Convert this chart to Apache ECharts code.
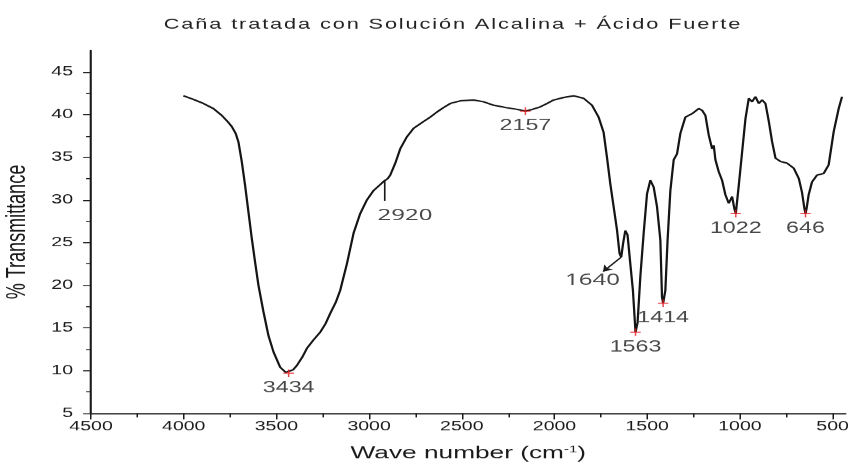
<!DOCTYPE html>
<html>
<head>
<meta charset="utf-8">
<title>Caña tratada con Solución Alcalina + Ácido Fuerte</title>
<script src="https://cdn.jsdelivr.net/npm/echarts@6.0.0/dist/echarts.min.js"></script>
<style>
  html, body { margin: 0; padding: 0; background: #fff; overflow: hidden; }
  /* the plot is laid out on a narrower canvas and widened to the page width */
  #chart { width: 567px; height: 471px; transform: scaleX(1.4991); transform-origin: 0 0; }
</style>
</head>
<body>
<div id="chart"></div>
<script>
// FTIR spectrum: wave number (cm-1) and % transmittance
const wavenumbers = [
  4002, 3950, 3894, 3840, 3795, 3760, 3741, 3720, 3705, 3687, 3669, 3651, 3633, 3615, 3597,
  3570, 3543, 3516, 3480, 3450, 3434, 3410, 3390, 3360, 3336, 3300, 3264, 3235, 3210, 3180,
  3156, 3120, 3084, 3048, 3012, 2976, 2940, 2920, 2900, 2886, 2859, 2832, 2796, 2760, 2706,
  2670, 2634, 2600, 2562, 2509, 2437, 2383, 2329, 2257, 2200, 2157, 2120, 2077, 2040, 2005,
  1951, 1897, 1843, 1798, 1762, 1735, 1717, 1699, 1681, 1663, 1649, 1640, 1630, 1618, 1606,
  1591, 1577, 1563, 1552, 1537, 1519, 1501, 1483, 1465, 1447, 1429, 1420, 1414, 1402, 1390,
  1375, 1357, 1339, 1321, 1294, 1258, 1222, 1204, 1186, 1168, 1150, 1141, 1132, 1114, 1096,
  1078, 1060, 1042, 1030, 1022, 1006, 988, 970, 952, 934, 916, 898, 880, 862, 844,
  826, 808, 781, 745, 709, 682, 665, 652, 646, 640, 629, 611, 584, 548, 521,
  494, 467, 449
];
const transmittance = [
  42.2, 41.8, 41.3, 40.7, 39.9, 39.1, 38.6, 37.8, 36.8, 34.5, 31.7, 28.6, 25.5, 22.7, 20.0,
  16.9, 14.1, 12.2, 10.4, 9.8, 9.7, 10.1, 10.6, 11.6, 12.6, 13.6, 14.5, 15.5, 16.7, 18.0,
  19.4, 22.5, 26.1, 28.4, 30.0, 31.1, 31.8, 32.2, 32.5, 32.9, 34.3, 36.0, 37.4, 38.4, 39.2,
  39.7, 40.3, 40.8, 41.3, 41.6, 41.7, 41.5, 41.1, 40.8, 40.6, 40.4, 40.6, 40.9, 41.3, 41.7,
  42.0, 42.2, 41.9, 41.1, 39.7, 37.9, 35.0, 31.9, 29.2, 26.5, 23.7, 23.3, 24.9, 26.4, 25.9,
  22.5, 19.4, 14.5, 15.6, 21.0, 26.1, 30.7, 32.3, 31.5, 29.2, 25.3, 18.6, 17.9, 19.4, 25.3,
  31.1, 34.7, 35.4, 37.8, 39.7, 40.1, 40.7, 40.5, 39.9, 37.6, 36.0, 36.4, 34.7, 33.3, 32.3,
  30.6, 29.6, 30.4, 29.0, 28.4, 31.7, 35.6, 39.5, 41.9, 41.5, 42.1, 41.3, 41.7, 41.3, 39.2,
  36.8, 34.9, 34.5, 34.3, 33.7, 32.5, 30.9, 29.0, 28.4, 29.0, 30.6, 32.1, 32.9, 33.1, 34.1,
  38.0, 40.7, 42.1
];

// picked peaks (marked with a red cross)
const peakWavenumbers = [3434, 2157, 1563, 1414, 1022, 646];
const peakTransmittance = [9.7, 40.4, 14.5, 17.9, 28.4, 28.4];

// bands annotated with a pointer line
const noteBands = [2920, 1640];
const noteTransmittance = [32.2, 23.3];

const xTickLabels = [4500, 4000, 3500, 3000, 2500, 2000, 1500, 1000, 500];
const xMinorTicks = [4250, 3750, 3250, 2750, 2250, 1750, 1250, 750];
const yTickLabels = [5, 10, 15, 20, 25, 30, 35, 40, 45];
const yMinorTicks = [7.5, 12.5, 17.5, 22.5, 27.5, 32.5, 37.5, 42.5];

const chartTitle = 'Caña tratada con Solución Alcalina + Ácido Fuerte';

const chart = echarts.init(document.getElementById('chart'), null, {
  renderer: 'canvas',
  devicePixelRatio: 1.5
});

const sans = 'Liberation Sans, Arial, sans-serif';
const ink = '#1a1a1a';

const spectrum = wavenumbers.map((w, i) => [w, transmittance[i]]);
const peaks = peakWavenumbers.map((w, i) => [w, peakTransmittance[i]]);
const plus = 'path://M0,4.3h10v1.4h-10z M4.3,0h1.4v10h-1.4z';

// spaced-out lettering: every character becomes one rich-text fragment
const spaced = s => Array.from(s).map(ch => '{c|' + ch + '}').join('');

// pointer lines: a short drop below 2920 and an arrow leaving 1640
const tickEnd = [noteBands[0], noteTransmittance[0] - 2.3];
const arrowEnd = [noteBands[1] + 98, noteTransmittance[1] - 1.7];

const baseX = {
  type: 'value', inverse: true, min: 430, max: 4500,
  splitLine: { show: false }
};
const baseY = {
  type: 'value', min: 5, max: 47.5,
  splitLine: { show: false }
};
const plain = v => String(v);

chart.setOption({
  animation: false,
  backgroundColor: '#fff',
  title: {
    text: spaced(chartTitle),
    left: 297, top: 12, textAlign: 'center',
    textStyle: {
      fontWeight: 'normal',
      rich: { c: { fontFamily: sans, fontSize: 14.5, fontWeight: 'normal', color: '#222', padding: [0, 1.25, 0, 0] } }
    }
  },
  grid: { left: 60.7, right: 3.3, top: 50.5, bottom: 58, outerBoundsMode: 'none', containLabel: false },
  xAxis: [
    Object.assign({}, baseX, {
      position: 'bottom',
      name: '{a|Wave number (cm}{s|-1}{a|)}',
      nameLocation: 'middle', nameGap: 31,
      nameTextStyle: {
        rich: {
          a: { fontFamily: sans, fontSize: 17.5, color: ink },
          s: { fontFamily: sans, fontSize: 10, color: ink, verticalAlign: 'top', padding: [0, 0, 8, 0] }
        }
      },
      axisLine: { show: true, onZero: false, lineStyle: { color: ink, width: 1.4 } },
      axisTick: { show: true, inside: false, length: 6, customValues: xTickLabels, lineStyle: { color: ink, width: 1 } },
      axisLabel: { show: true, margin: 7, customValues: xTickLabels, formatter: plain, fontFamily: sans, fontSize: 13, color: ink }
    }),
    Object.assign({}, baseX, {
      position: 'bottom',
      axisLine: { show: false },
      axisTick: { show: true, inside: false, length: 4, customValues: xMinorTicks, lineStyle: { color: ink, width: 1 } },
      axisLabel: { show: false, customValues: xMinorTicks }
    })
  ],
  yAxis: [
    Object.assign({}, baseY, {
      position: 'left',
      name: '% Transmittance',
      nameLocation: 'middle', nameRotate: 90, nameGap: 40,
      nameTextStyle: { fontFamily: sans, fontSize: 18, color: ink },
      axisLine: { show: true, onZero: false, lineStyle: { color: ink, width: 1.4 } },
      axisTick: { show: true, inside: false, length: 5.3, customValues: yTickLabels, lineStyle: { color: ink, width: 1 } },
      axisLabel: { show: true, margin: 12, customValues: yTickLabels, formatter: plain, fontFamily: sans, fontSize: 13, color: ink }
    }),
    Object.assign({}, baseY, {
      position: 'left',
      axisLine: { show: false },
      axisTick: { show: true, inside: false, length: 3.3, customValues: yMinorTicks, lineStyle: { color: ink, width: 1 } },
      axisLabel: { show: false, customValues: yMinorTicks }
    })
  ],
  series: [
    {
      name: 'spectrum',
      type: 'line',
      data: spectrum,
      showSymbol: false,
      smooth: false,
      lineStyle: { color: '#151515', width: 1.5 },
      silent: true,
      z: 3,
      markLine: {
        silent: true,
        symbolSize: 6,
        label: { show: false },
        lineStyle: { color: ink, width: 1.1, type: 'solid' },
        data: [
          [{ coord: [noteBands[0], noteTransmittance[0]], symbol: 'none' }, { coord: tickEnd, symbol: 'none' }],
          [{ coord: [noteBands[1], noteTransmittance[1]], symbol: 'none' }, { coord: arrowEnd, symbol: 'arrow' }]
        ]
      }
    },
    {
      name: 'peaks',
      type: 'scatter',
      data: peaks,
      symbol: plus,
      symbolSize: [7, 7.5],
      itemStyle: { color: '#e8141c' },
      silent: true,
      z: 5,
      label: {
        show: true, position: 'bottom', distance: 3,
        formatter: p => String(p.value[0]),
        fontFamily: sans, fontSize: 15.5, color: ink
      }
    },
    {
      name: 'notes',
      type: 'scatter',
      symbolSize: 0,
      silent: true,
      z: 5,
      data: [
        { value: tickEnd, label: { offset: [14, 3] } },
        { value: arrowEnd, label: { offset: [-7, -3] } }
      ],
      label: {
        show: true, position: 'bottom', distance: 4,
        formatter: p => String(noteBands[p.dataIndex]),
        fontFamily: 'Noto Sans, Open Sans, sans-serif', fontSize: 16, color: ink
      }
    }
  ]
});
</script>
</body>
</html>
